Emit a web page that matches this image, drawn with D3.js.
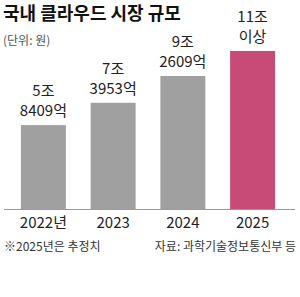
<!DOCTYPE html>
<html><head><meta charset="utf-8">
<script src="https://cdn.jsdelivr.net/npm/d3@7"></script>
<style>body{margin:0;background:#fff}svg{display:block}text{font-family:"Noto Sans CJK KR","Noto Sans",sans-serif}</style>
</head><body>
<script>
const years = ["2022년", "2023", "2024", "2025"];
const values = [5.8409, 7.3953, 9.2609, 11];
const labelTop = ["5조", "7조", "9조", "11조"];
const labelBottom = ["8409억", "3953억", "2609억", "이상"];
const colors = ["#a0a0a0", "#a0a0a0", "#a0a0a0", "#c84b77"];

const W = 300, H = 297;
const svg = d3.select("body").append("svg").attr("width", W).attr("height", H);

const x = d3.scaleBand().domain(years).range([0, 296]).paddingInner(0.355).paddingOuter(0.3);
const y = d3.scaleLinear().domain([0, 11]).range([209, 51]);

svg.append("text").attr("x", 3).attr("y", 20).attr("font-size", 18).attr("font-weight", 700)
  .attr("fill", "#111").text("국내 클라우드 시장 규모");
svg.append("text").attr("x", 3).attr("y", 45).attr("font-size", 12)
  .attr("fill", "#555").text("(단위: 원)");

svg.selectAll("rect.bar").data(values).join("rect").attr("class", "bar")
  .attr("x", (d, i) => x(years[i])).attr("width", x.bandwidth())
  .attr("y", d => y(d)).attr("height", d => y(0) - y(d))
  .attr("fill", (d, i) => colors[i]);

svg.append("line").attr("x1", 4).attr("x2", 295).attr("y1", y(0) + 0.5).attr("y2", y(0) + 0.5)
  .attr("stroke", "#9a9a9a").attr("stroke-width", 1);

const g = svg.selectAll("g.lab").data(values).join("g").attr("class", "lab");
g.append("text").attr("x", (d, i) => x(years[i]) + x.bandwidth() / 2).attr("y", d => y(d) - 29)
  .attr("text-anchor", "middle").attr("font-size", 15).attr("fill", "#222").text((d, i) => labelTop[i]);
g.append("text").attr("x", (d, i) => x(years[i]) + x.bandwidth() / 2).attr("y", d => y(d) - 9)
  .attr("text-anchor", "middle").attr("font-size", 15).attr("fill", "#222").text((d, i) => labelBottom[i]);

const axis = d3.axisBottom(x).tickSize(0).tickPadding(0);
const ax = svg.append("g").attr("transform", `translate(0,${y(0)})`).call(axis);
ax.select(".domain").remove();
ax.selectAll("text").attr("font-size", 15).attr("fill", "#222")
  .attr("font-family", '"Noto Sans CJK KR","Noto Sans",sans-serif').attr("dy", null).attr("y", 19);

svg.append("text").attr("x", 4).attr("y", 251).attr("font-size", 12).attr("fill", "#333").text("※2025년은 추정치");
svg.append("text").attr("x", 296).attr("y", 251).attr("font-size", 12).attr("fill", "#333")
  .attr("text-anchor", "end").text("자료: 과학기술정보통신부 등");
</script>
</body></html>
